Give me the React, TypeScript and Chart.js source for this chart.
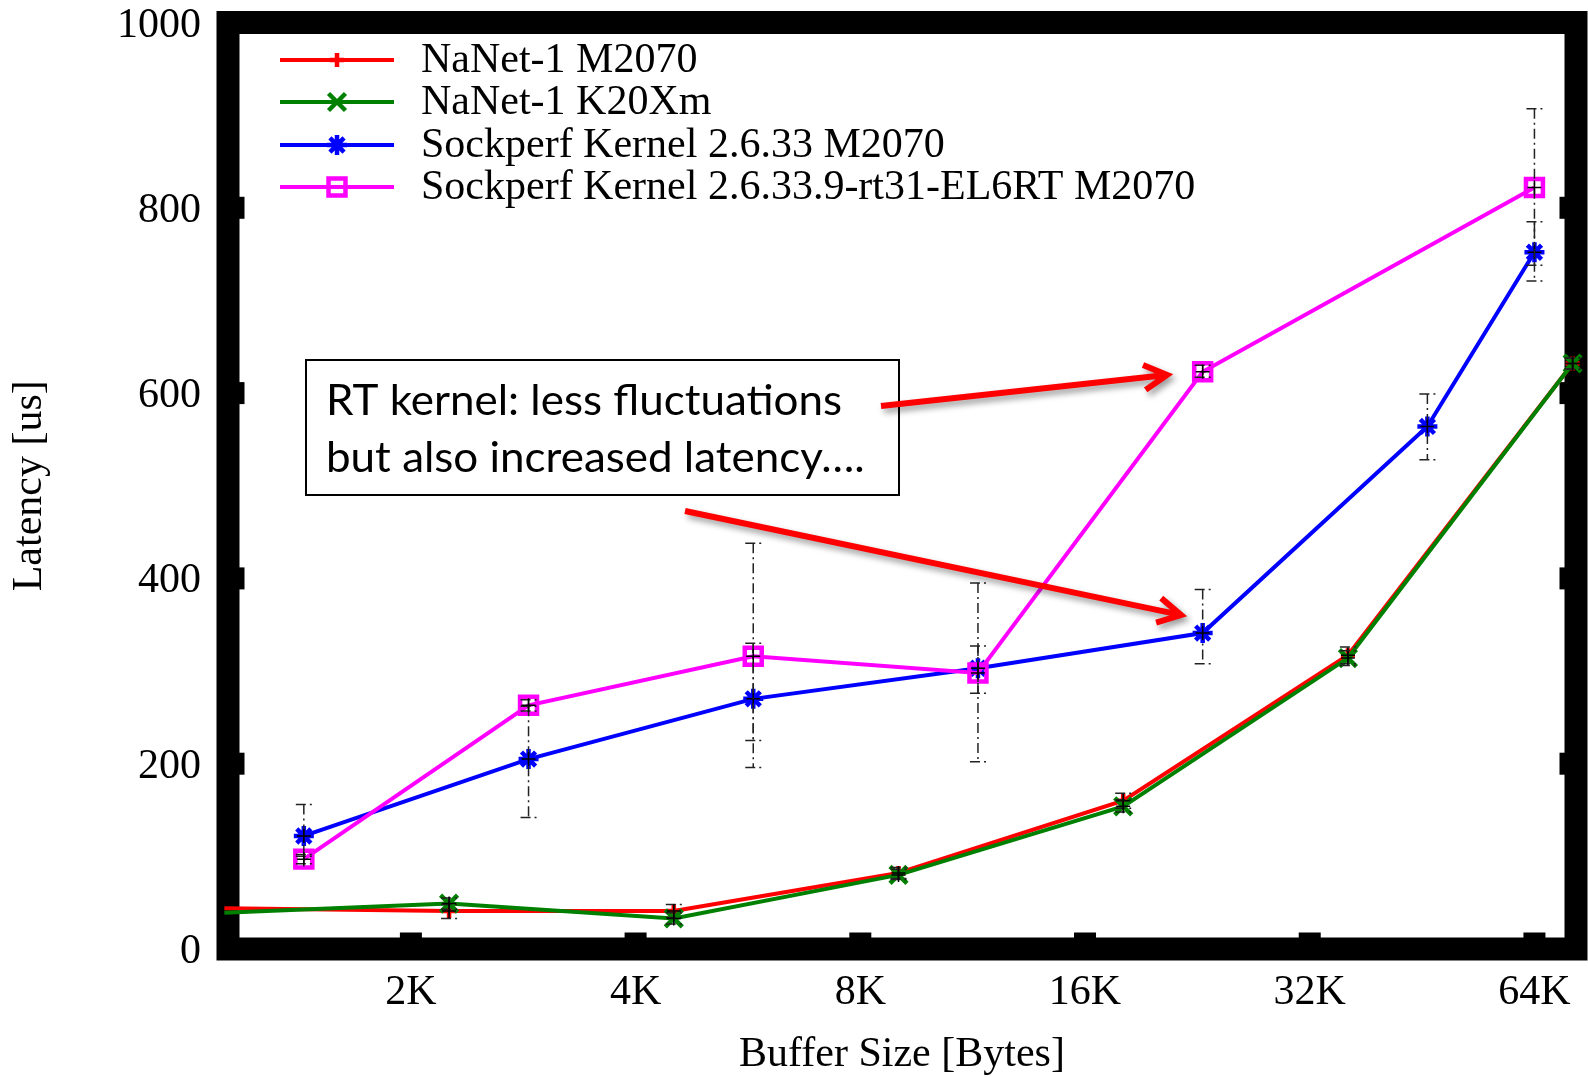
import React, { useEffect, useRef } from "react";
import { Chart, registerables } from "chart.js";

Chart.register(...registerables);

// ---------------- data ----------------
const nanetSizes = [1152, 2304, 4608, 9216, 18432, 36864, 73728];
const sockSizes = [1472, 2944, 5888, 11776, 23552, 47104, 65536];
const rtSizes = [1472, 2944, 5888, 11776, 23552, 65536];

const nanetM2070 = [44, 41, 41, 82, 160, 317, 632];
const nanetM2070Low = [38, 33, 34, 76, 152, 308, 626];
const nanetM2070High = [50, 48, 48, 88, 168, 326, 638];

const nanetK20 = [39, 49, 33, 80, 154, 314, 632];
const nanetK20Low = [34, 43, 27, 75, 148, 306, 626];
const nanetK20High = [44, 55, 39, 86, 161, 322, 638];

const sockKernel = [122, 205, 270, 303, 341, 564, 752];
const sockKernelLow = [100, 142, 196, 202, 308, 528, 721];
const sockKernelHigh = [156, 262, 438, 395, 388, 599, 785];

const sockRT = [97, 263, 316, 298, 623, 822];
const sockRTLow = [92, 257, 225, 276, 617, 738];
const sockRTHigh = [102, 269, 330, 327, 630, 907];

const xTickValues = [2048, 4096, 8192, 16384, 32768, 65536];
const xTickLabels = ["2K", "4K", "8K", "16K", "32K", "64K"];
const yTickValues = [0, 200, 400, 600, 800, 1000];

const seriesLabels = [
  "NaNet-1 M2070",
  "NaNet-1 K20Xm",
  "Sockperf Kernel 2.6.33 M2070",
  "Sockperf Kernel 2.6.33.9-rt31-EL6RT M2070",
];
const seriesColors = ["#ff0000", "#008000", "#0000ff", "#ff00ff"];
const seriesMarkers = ["cross", "crossRot", "star", "rect"];
const seriesMarkerRadius = [7, 12, 10, 12];

const annotationLines = ["RT kernel: less fluctuations", "but also increased latency…."];

const xTitle = "Buffer Size [Bytes]";
const yTitle = "Latency [us]";

// ---------------- helpers ----------------
const SERIF = "'Liberation Serif', 'Times New Roman', serif";
const FS = 42;

function toPoints(xs: number[], ys: number[]) {
  return xs.map((x, i) => ({ x, y: ys[i] }));
}

function drawMarker(ctx: CanvasRenderingContext2D, style: string, x: number, y: number, r: number, color: string, lw: number) {
  ctx.save();
  ctx.strokeStyle = color;
  ctx.lineWidth = lw;
  ctx.beginPath();
  if (style === "cross" || style === "star") {
    ctx.moveTo(x - r, y);
    ctx.lineTo(x + r, y);
    ctx.moveTo(x, y - r);
    ctx.lineTo(x, y + r);
  }
  if (style === "crossRot" || style === "star") {
    const o = r * Math.SQRT1_2;
    ctx.moveTo(x - o, y - o);
    ctx.lineTo(x + o, y + o);
    ctx.moveTo(x - o, y + o);
    ctx.lineTo(x + o, y - o);
  }
  if (style === "rect") {
    const o = r * Math.SQRT1_2;
    ctx.rect(x - o, y - o, 2 * o, 2 * o);
  }
  ctx.stroke();
  ctx.restore();
}

const errorSets = [
  { sizes: nanetSizes, mean: nanetM2070, low: nanetM2070Low, high: nanetM2070High, skipFirst: true },
  { sizes: nanetSizes, mean: nanetK20, low: nanetK20Low, high: nanetK20High, skipFirst: true },
  { sizes: sockSizes, mean: sockKernel, low: sockKernelLow, high: sockKernelHigh, skipFirst: false },
  { sizes: rtSizes, mean: sockRT, low: sockRTLow, high: sockRTHigh, skipFirst: false },
];

const framePlugin = {
  id: "frame",
  beforeDatasetsDraw(chart: any) {
    const { ctx, chartArea, scales } = chart;
    const { left, right, top, bottom } = chartArea;
    const bw = 23;
    ctx.save();
    ctx.strokeStyle = "#000";
    ctx.lineWidth = bw;
    ctx.lineJoin = "miter";
    ctx.strokeRect(left, top, right - left, bottom - top);
    ctx.fillStyle = "#000";
    const tlen = bw / 2 + 5;
    const tw = 22;
    for (const v of yTickValues.slice(1, -1)) {
      const py = scales.y.getPixelForValue(v);
      ctx.fillRect(left, py - tw / 2, tlen, tw);
      ctx.fillRect(right - tlen, py - tw / 2, tlen, tw);
    }
    for (const v of xTickValues) {
      const px = scales.x.getPixelForValue(v);
      ctx.fillRect(px - tw / 2, bottom - tlen, tw, tlen);
    }
    ctx.restore();
  },
};

const errorBarPlugin = {
  id: "errbars",
  afterDatasetsDraw(chart: any) {
    const { ctx, scales } = chart;
    const { x, y } = scales;
    ctx.save();
    for (const eb of errorSets) {
      eb.sizes.forEach((s: number, i: number) => {
        if (eb.skipFirst && i === 0) return;
        const px = x.getPixelForValue(s);
        const lo = y.getPixelForValue(eb.low[i]);
        const hi = y.getPixelForValue(eb.high[i]);
        const pm = y.getPixelForValue(eb.mean[i]);
        ctx.strokeStyle = "#222";
        ctx.lineWidth = 1.5;
        ctx.setLineDash([10, 4, 2, 4]);
        ctx.beginPath();
        ctx.moveTo(px, hi);
        ctx.lineTo(px, lo);
        ctx.moveTo(px - 8, hi);
        ctx.lineTo(px + 8, hi);
        ctx.moveTo(px - 8, lo);
        ctx.lineTo(px + 8, lo);
        ctx.stroke();
        ctx.setLineDash([]);
        ctx.strokeStyle = "#000";
        ctx.beginPath();
        ctx.moveTo(px - 7, pm);
        ctx.lineTo(px + 7, pm);
        ctx.moveTo(px, pm - 7);
        ctx.lineTo(px, pm + 7);
        ctx.stroke();
      });
    }
    ctx.restore();
  },
};

function drawArrow(ctx: CanvasRenderingContext2D, x1: number, y1: number, x2: number, y2: number) {
  const ang = Math.atan2(y2 - y1, x2 - x1);
  const head = 26;
  const spread = 0.5;
  ctx.beginPath();
  ctx.moveTo(x1, y1);
  ctx.lineTo(x2 - 3 * Math.cos(ang), y2 - 3 * Math.sin(ang));
  ctx.moveTo(x2 - head * Math.cos(ang - spread), y2 - head * Math.sin(ang - spread));
  ctx.lineTo(x2, y2);
  ctx.lineTo(x2 - head * Math.cos(ang + spread), y2 - head * Math.sin(ang + spread));
  ctx.stroke();
}

const overlayPlugin = {
  id: "overlay",
  afterDraw(chart: any) {
    const { ctx } = chart;
    ctx.save();
    // legend
    const rowY = [60, 102, 145, 187];
    seriesLabels.forEach((lab, i) => {
      const yy = rowY[i];
      ctx.strokeStyle = seriesColors[i];
      ctx.lineWidth = 4;
      ctx.beginPath();
      ctx.moveTo(280, yy);
      ctx.lineTo(394, yy);
      ctx.stroke();
      drawMarker(ctx, seriesMarkers[i], 337, yy, seriesMarkerRadius[i], seriesColors[i], 4.5);
      ctx.fillStyle = "#000";
      ctx.font = `${FS}px ${SERIF}`;
      ctx.textAlign = "left";
      ctx.textBaseline = "middle";
      ctx.fillText(lab, 421, yy + 1);
    });

    // annotation box
    ctx.fillStyle = "#fff";
    ctx.fillRect(306, 360, 593, 135);
    ctx.strokeStyle = "#000";
    ctx.lineWidth = 2;
    ctx.strokeRect(306, 360, 593, 135);
    const afs = 43;
    ctx.font = `${afs}px Lato, 'Open Sans', sans-serif`;
    const w0 = ctx.measureText(annotationLines[0]).width;
    const sx = 516 / w0;
    ctx.fillStyle = "#000";
    ctx.textAlign = "left";
    ctx.textBaseline = "middle";
    ctx.save();
    ctx.translate(326, 0);
    ctx.scale(sx, 1);
    ctx.fillText(annotationLines[0], 0, 401);
    ctx.fillText(annotationLines[1], 0, 458);
    ctx.restore();

    // arrows
    ctx.strokeStyle = "#ff0000";
    ctx.lineWidth = 6;
    ctx.lineJoin = "miter";
    ctx.lineCap = "butt";
    ctx.shadowColor = "rgba(0,0,0,0.4)";
    ctx.shadowBlur = 6;
    ctx.shadowOffsetX = 3;
    ctx.shadowOffsetY = 4;
    drawArrow(ctx, 881, 406, 1167, 375);
    drawArrow(ctx, 685, 511, 1181, 615);
    ctx.restore();
  },
};

export default function App() {
  const canvasRef = useRef<HTMLCanvasElement | null>(null);

  useEffect(() => {
    const canvas = canvasRef.current;
    if (!canvas) return;
    const mk = (i: number, data: any[], hideFirst: boolean, order: number) => ({
      label: seriesLabels[i],
      data,
      borderColor: seriesColors[i],
      backgroundColor: seriesColors[i],
      borderWidth: 4,
      pointStyle: seriesMarkers[i],
      pointRadius: data.map((_: any, k: number) => (hideFirst && k === 0 ? 0 : seriesMarkerRadius[i])),
      pointBorderWidth: 4.5,
      pointBorderColor: seriesColors[i],
      pointBackgroundColor: "rgba(0,0,0,0)",
      tension: 0,
      clip: false,
      order,
    });

    const chart: any = new Chart(canvas, {
      type: "line",
      data: {
        datasets: [
          mk(0, toPoints(nanetSizes, nanetM2070), true, 3),
          mk(1, toPoints(nanetSizes, nanetK20), true, 2),
          mk(2, toPoints(sockSizes, sockKernel), false, 1),
          mk(3, toPoints(rtSizes, sockRT), false, 0),
        ],
      },
      options: {
        animation: false,
        responsive: false,
        devicePixelRatio: 1,
        layout: { autoPadding: false, padding: { left: 0, right: 12, top: 22.5, bottom: 0 } },
        plugins: { legend: { display: false }, tooltip: { enabled: false } },
        scales: {
          x: {
            type: "logarithmic",
            min: 1165,
            max: 74500,
            grid: { display: false, drawTicks: false },
            border: { display: false },
            afterBuildTicks: (scale: any) => {
              scale.ticks = xTickValues.map((v) => ({ value: v }));
            },
            afterFit: (scale: any) => {
              scale.height = 129;
              scale.paddingLeft = 0;
              scale.paddingRight = 0;
            },
            ticks: {
              autoSkip: false,
              maxRotation: 0,
              padding: 23,
              color: "#000",
              font: { family: SERIF, size: FS, lineHeight: 1 },
              callback: (v: any) => {
                const idx = xTickValues.indexOf(Number(v));
                return idx >= 0 ? xTickLabels[idx] : "";
              },
            },
            title: {
              display: true,
              text: xTitle,
              color: "#000",
              font: { family: SERIF, size: FS, lineHeight: 1.1 },
              padding: { top: 0, bottom: 0 },
            },
          },
          y: {
            type: "linear",
            min: 0,
            max: 1000,
            grid: { display: false, drawTicks: false },
            border: { display: false },
            afterBuildTicks: (scale: any) => {
              scale.ticks = yTickValues.map((v) => ({ value: v }));
            },
            afterFit: (scale: any) => {
              scale.width = 228;
              scale.paddingTop = 0;
              scale.paddingBottom = 0;
            },
            ticks: {
              padding: 27,
              labelOffset: 3,
              color: "#000",
              font: { family: SERIF, size: FS, lineHeight: 1 },
              callback: (v: any) => String(v),
            },
            title: {
              display: true,
              text: yTitle,
              color: "#000",
              font: { family: SERIF, size: FS, lineHeight: 1.2 },
              padding: { top: 5, bottom: 0 },
            },
          },
        },
      },
      plugins: [framePlugin, errorBarPlugin, overlayPlugin],
    } as any);

    return () => {
      chart.destroy();
    };
  }, []);

  return (
    <div style={{ position: "absolute", left: 0, top: 0, width: 1588, height: 1078, background: "#fff" }}>
      <canvas ref={canvasRef} width={1588} height={1078} style={{ display: "block" }} />
    </div>
  );
}
